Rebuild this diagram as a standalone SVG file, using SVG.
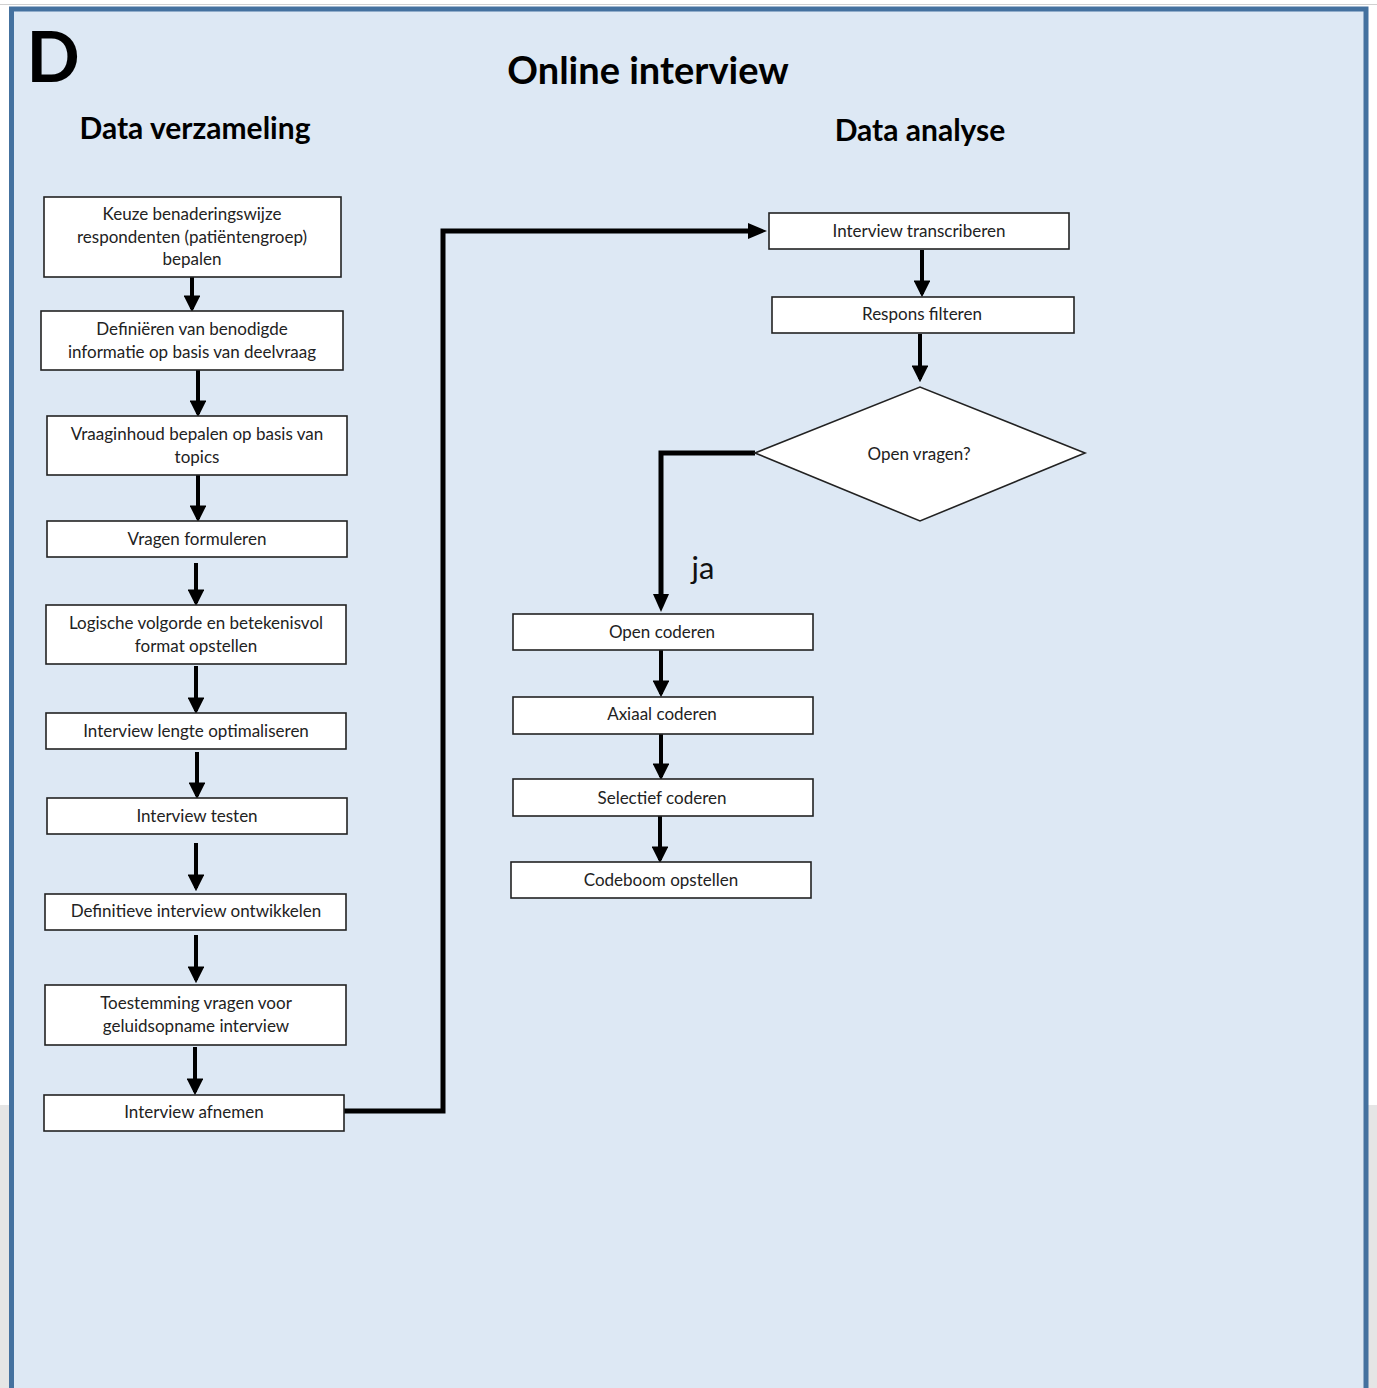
<svg xmlns="http://www.w3.org/2000/svg" width="1377" height="1388" viewBox="0 0 1377 1388">
  <defs>
    <marker id="ah" markerWidth="4.2" markerHeight="4.2" refX="3.4" refY="2.1" orient="auto" markerUnits="strokeWidth">
      <path d="M0,0 L4.2,2.1 L0,4.2 Z" fill="#000"/>
    </marker>
    <style>
      .box { fill: #ffffff; stroke: #222; stroke-width: 1.6; }
      .lbl { font-family: Lato, "Open Sans", "Liberation Sans", sans-serif; font-size: 17px; fill: #222; text-anchor: middle; }
      .head { font-family: Lato, "Open Sans", "Liberation Sans", sans-serif; font-weight: bold; fill: #000; text-anchor: middle; }
      .flow { fill: none; stroke: #000; stroke-width: 4; marker-end: url(#ah); }
      .link { fill: none; stroke: #000; stroke-width: 5; stroke-linejoin: miter; }
    </style>
  </defs>

  <!-- page surround -->
  <rect x="0" y="0" width="1377" height="1388" fill="#ffffff"/>
  <rect x="0" y="1105" width="1377" height="283" fill="#e5e5e5"/>
  <line x1="0" y1="4.5" x2="1377" y2="4.5" stroke="#d0d0d0" stroke-width="1"/>

  <!-- panel -->
  <rect x="11.5" y="9" width="1354.5" height="1390" fill="#dde8f4" stroke="#44719f" stroke-width="5"/>

  <!-- headings -->
  <text x="53" y="82" class="head" font-size="70">D</text>
  <text x="648" y="84" class="head" font-size="38">Online interview</text>
  <text x="195" y="139" class="head" font-size="30">Data verzameling</text>
  <text x="920" y="141" class="head" font-size="30">Data analyse</text>

  <!-- connectors -->
  <g id="connectors">
    <line class="flow" x1="192" y1="277" x2="192" y2="309"/>
    <line class="flow" x1="198" y1="370" x2="198" y2="414"/>
    <line class="flow" x1="198" y1="475" x2="198" y2="519"/>
    <line class="flow" x1="196" y1="563" x2="196" y2="603"/>
    <line class="flow" x1="196" y1="666" x2="196" y2="711"/>
    <line class="flow" x1="197" y1="752" x2="197" y2="796"/>
    <line class="flow" x1="196" y1="843" x2="196" y2="888"/>
    <line class="flow" x1="196" y1="935" x2="196" y2="980"/>
    <line class="flow" x1="195" y1="1047" x2="195" y2="1092"/>

    <polyline class="link" points="344,1111 443,1111 443,231 752,231"/>
    <path d="M748,223 L767,231 L748,239 Z" fill="#000"/>

    <line class="flow" x1="922" y1="250" x2="922" y2="294"/>
    <line class="flow" x1="920" y1="334" x2="920" y2="379"/>

    <polyline class="link" points="755,453 661,453 661,596"/>
    <path d="M653,594 L661,612 L669,594 Z" fill="#000"/>

    <line class="flow" x1="661" y1="650" x2="661" y2="694"/>
    <line class="flow" x1="661" y1="734" x2="661" y2="777"/>
    <line class="flow" x1="660" y1="816" x2="660" y2="860"/>

    <text x="703" y="579" font-family="Lato, 'Open Sans', 'Liberation Sans', sans-serif" font-size="31" fill="#111" text-anchor="middle">ja</text>
  </g>

  <!-- data collection steps -->
  <g id="n-keuze">
    <rect class="box" x="44" y="197" width="297" height="80"/>
    <text class="lbl" x="192" y="220">Keuze benaderingswijze</text>
    <text class="lbl" x="192" y="243">respondenten (patiëntengroep)</text>
    <text class="lbl" x="192" y="265">bepalen</text>
  </g>
  <g id="n-definieren">
    <rect class="box" x="41" y="311" width="302" height="59"/>
    <text class="lbl" x="192" y="335">Definiëren van benodigde</text>
    <text class="lbl" x="192" y="358">informatie op basis van deelvraag</text>
  </g>
  <g id="n-vraaginhoud">
    <rect class="box" x="47" y="416" width="300" height="59"/>
    <text class="lbl" x="197" y="440">Vraaginhoud bepalen op basis van</text>
    <text class="lbl" x="197" y="463">topics</text>
  </g>
  <g id="n-formuleren">
    <rect class="box" x="47" y="521" width="300" height="36"/>
    <text class="lbl" x="197" y="545">Vragen formuleren</text>
  </g>
  <g id="n-volgorde">
    <rect class="box" x="46" y="605" width="300" height="59"/>
    <text class="lbl" x="196" y="629">Logische volgorde en betekenisvol</text>
    <text class="lbl" x="196" y="652">format opstellen</text>
  </g>
  <g id="n-lengte">
    <rect class="box" x="46" y="713" width="300" height="36"/>
    <text class="lbl" x="196" y="737">Interview lengte optimaliseren</text>
  </g>
  <g id="n-testen">
    <rect class="box" x="47" y="798" width="300" height="36"/>
    <text class="lbl" x="197" y="822">Interview testen</text>
  </g>
  <g id="n-definitief">
    <rect class="box" x="45" y="894" width="301" height="36"/>
    <text class="lbl" x="196" y="917">Definitieve interview ontwikkelen</text>
  </g>
  <g id="n-toestemming">
    <rect class="box" x="45" y="985" width="301" height="60"/>
    <text class="lbl" x="196" y="1009">Toestemming vragen voor</text>
    <text class="lbl" x="196" y="1032">geluidsopname interview</text>
  </g>
  <g id="n-afnemen">
    <rect class="box" x="44" y="1095" width="300" height="36"/>
    <text class="lbl" x="194" y="1118">Interview afnemen</text>
  </g>

  <!-- analysis steps -->
  <g id="n-transcriberen">
    <rect class="box" x="769" y="213" width="300" height="36"/>
    <text class="lbl" x="919" y="237">Interview transcriberen</text>
  </g>
  <g id="n-filteren">
    <rect class="box" x="772" y="297" width="302" height="36"/>
    <text class="lbl" x="922" y="320">Respons filteren</text>
  </g>
  <g id="n-openvragen">
    <polygon class="box" points="755,453 920,387 1085,453 920,521"/>
    <text class="lbl" x="919" y="460">Open vragen?</text>
  </g>
  <g id="n-open">
    <rect class="box" x="513" y="614" width="300" height="36"/>
    <text class="lbl" x="662" y="638">Open coderen</text>
  </g>
  <g id="n-axiaal">
    <rect class="box" x="513" y="697" width="300" height="37"/>
    <text class="lbl" x="662" y="720">Axiaal coderen</text>
  </g>
  <g id="n-selectief">
    <rect class="box" x="513" y="779" width="300" height="37"/>
    <text class="lbl" x="662" y="804">Selectief coderen</text>
  </g>
  <g id="n-codeboom">
    <rect class="box" x="511" y="862" width="300" height="36"/>
    <text class="lbl" x="661" y="886">Codeboom opstellen</text>
  </g>
</svg>
